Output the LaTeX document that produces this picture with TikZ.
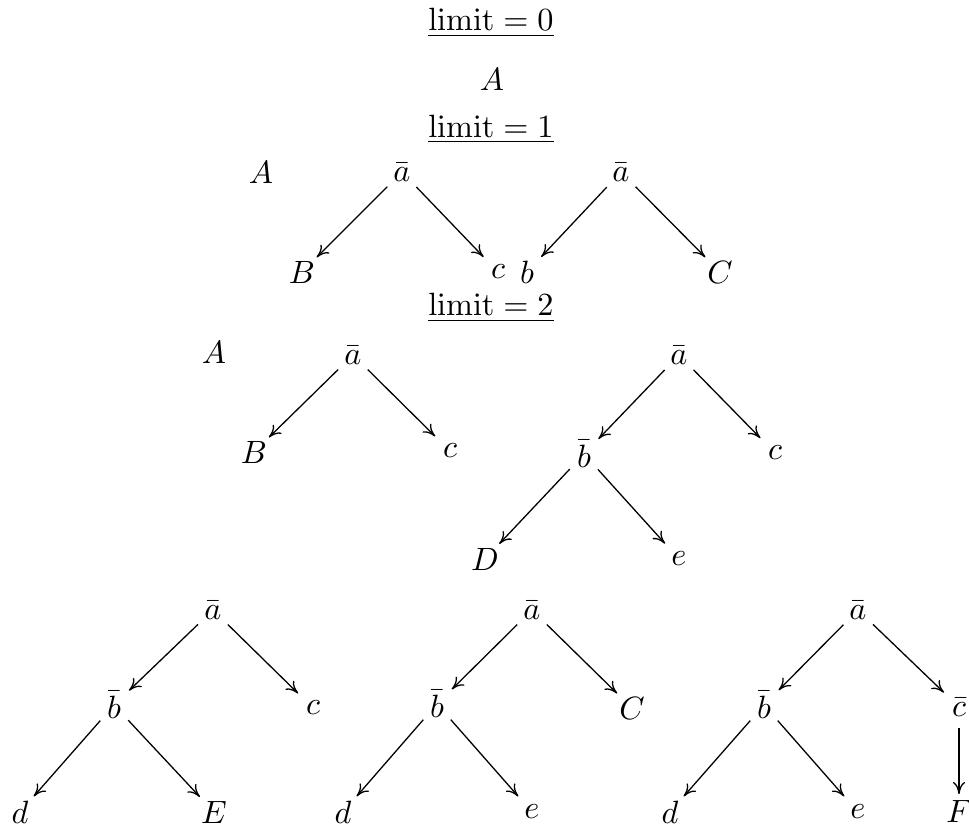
\documentclass[tikz,border=0pt]{standalone}
\usetikzlibrary{arrows.meta}
\begin{document}
\begin{tikzpicture}[x=0.31pt,y=-0.31pt,
  v/.style={circle,inner sep=0pt,minimum size=12.5pt},
  ttl/.style={anchor=base},
  e/.style={-{Computer Modern Rightarrow[length=3.8pt,width=3.8pt]},thin}]
\useasboundingbox (0,0) rectangle (969,827);
% limit = 0
\node[ttl] (L0) at (491,31) {$\underline{\mathrm{limit} = 0}$};
\node[v] (A0) at (492,79) {$A$};
% limit = 1
\node[ttl] (L1) at (491,137) {$\underline{\mathrm{limit} = 1}$};
\node[v] (A1) at (261,172) {$A$};
\node[v] (a1) at (402,172) {$\bar a$};
\node[v] (B1) at (302,272) {$B$};
\node[v] (c1) at (498,272) {$c$};
\node[v] (a1r) at (621,172) {$\bar a$};
\node[v] (b1) at (527,272) {$b$};
\node[v] (C1) at (720,272) {$C$};
% limit = 2
\node[ttl] (L2) at (491,316) {$\underline{\mathrm{limit} = 2}$};
\node[v] (A2) at (214,352) {$A$};
\node[v] (a2) at (353,355) {$\bar a$};
\node[v] (B2) at (254,452) {$B$};
\node[v] (c2) at (450,451) {$c$};
\node[v] (a2r) at (679,355) {$\bar a$};
\node[v] (b2) at (584,454) {$\bar b$};
\node[v] (c2r) at (775,453) {$c$};
\node[v] (D2) at (485,559) {$D$};
\node[v] (e2) at (679,559) {$e$};
% bottom row
\node[v] (a3) at (213,610) {$\bar a$};
\node[v] (b3) at (114,705) {$\bar b$};
\node[v] (c3) at (313,708) {$c$};
\node[v] (d3) at (20,812) {$d$};
\node[v] (E3) at (214,812) {$E$};
\node[v] (a4) at (532,610) {$\bar a$};
\node[v] (b4) at (437,704) {$\bar b$};
\node[v] (C4) at (632,708) {$C$};
\node[v] (d4) at (343,812) {$d$};
\node[v] (e4) at (532,812) {$e$};
\node[v] (a5) at (858,610) {$\bar a$};
\node[v] (b5) at (764,705) {$\bar b$};
\node[v] (c5) at (959,707) {$\bar c$};
\node[v] (d5) at (670,812) {$d$};
\node[v] (e5) at (858,812) {$e$};
\node[v] (F5) at (959,815) {$\underline{F}$};
% edges
\draw[e] (a1) -- (B1);
\draw[e] (a1) -- (c1);
\draw[e] (a1r) -- (b1);
\draw[e] (a1r) -- (C1);
\draw[e] (a2) -- (B2);
\draw[e] (a2) -- (c2);
\draw[e] (a2r) -- (b2);
\draw[e] (a2r) -- (c2r);
\draw[e] (b2) -- (D2);
\draw[e] (b2) -- (e2);
\draw[e] (a3) -- (b3);
\draw[e] (a3) -- (c3);
\draw[e] (b3) -- (d3);
\draw[e] (b3) -- (E3);
\draw[e] (a4) -- (b4);
\draw[e] (a4) -- (C4);
\draw[e] (b4) -- (d4);
\draw[e] (b4) -- (e4);
\draw[e] (a5) -- (b5);
\draw[e] (a5) -- (c5);
\draw[e] (b5) -- (d5);
\draw[e] (b5) -- (e5);
\draw[e] (c5) -- (F5);
\end{tikzpicture}
\end{document}
